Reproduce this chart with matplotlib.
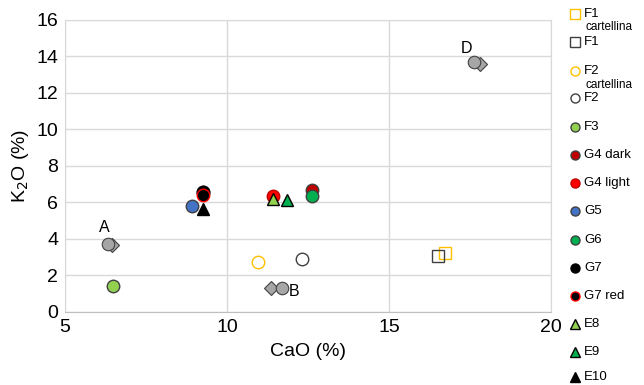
import matplotlib
matplotlib.use("Agg")
import matplotlib.pyplot as plt

plt.rcParams['font.family'] = ['Liberation Sans', 'DejaVu Sans']

# CaO / K2O (%) per group
f1_cart_x, f1_cart_y = [16.72], [3.24]
f1_x, f1_y = [16.51], [3.08]
f2_cart_x, f2_cart_y = [10.96], [2.75]
f2_x, f2_y = [12.31], [2.90]
f3_x, f3_y = [6.48], [1.40]
g4dark_x, g4dark_y = [12.63, 9.27], [6.67, 6.55]
g4light_x, g4light_y = [11.42], [6.36]
g5_x, g5_y = [8.92], [5.81]
g6_x, g6_y = [12.61], [6.34]
g7_x, g7_y = [9.27], [6.55]
g7red_x, g7red_y = [9.27], [6.40]
e8_x, e8_y = [11.43], [6.20]
e9_x, e9_y = [11.84], [6.14]
e10_x, e10_y = [9.25], [5.62]

# reference points A, B, D (circle + diamond)
ref_labels = ['A', 'B', 'D']
ref_circle_x = [6.32, 11.68, 17.62]
ref_circle_y = [3.70, 1.31, 13.68]
ref_diamond_x = [6.46, 11.36, 17.81]
ref_diamond_y = [3.66, 1.31, 13.59]
ref_label_x = [6.2, 12.05, 17.37]
ref_label_y = [4.6, 1.1, 14.4]

series = [
    # label, sublabel, x, y, marker, face, edge
    ('F1', 'cartellina', f1_cart_x, f1_cart_y, 's', 'none', '#ffc000'),
    ('F1', None, f1_x, f1_y, 's', 'none', '#404040'),
    ('F2', 'cartellina', f2_cart_x, f2_cart_y, 'o', 'none', '#ffc000'),
    ('F2', None, f2_x, f2_y, 'o', 'none', '#404040'),
    ('F3', None, f3_x, f3_y, 'o', '#92d050', '#404040'),
    ('G4 dark', None, g4dark_x, g4dark_y, 'o', '#c00000', '#404040'),
    ('G4 light', None, g4light_x, g4light_y, 'o', '#ff0000', '#c00000'),
    ('G5', None, g5_x, g5_y, 'o', '#4472c4', '#404040'),
    ('G6', None, g6_x, g6_y, 'o', '#00b050', '#404040'),
    ('G7', None, g7_x, g7_y, 'o', '#000000', '#000000'),
    ('G7 red', None, g7red_x, g7red_y, 'o', '#000000', '#ff0000'),
    ('E8', None, e8_x, e8_y, '^', '#92d050', '#000000'),
    ('E9', None, e9_x, e9_y, '^', '#00b050', '#000000'),
    ('E10', None, e10_x, e10_y, '^', '#000000', '#000000'),
]

fig = plt.figure(figsize=(6.44, 3.85), dpi=100)
ax = fig.add_axes([0.101, 0.19, 0.755, 0.759])

ax.plot(ref_diamond_x, ref_diamond_y, 'D', ms=7, mfc='#a6a6a6', mec='#404040', mew=0.8, ls='none')
ax.plot(ref_circle_x, ref_circle_y, 'o', ms=9, mfc='#a6a6a6', mec='#404040', mew=0.8, ls='none')
for lab, lx, ly in zip(ref_labels, ref_label_x, ref_label_y):
    ax.text(lx, ly, lab, fontsize=11.5, ha='center', va='center')

for lab, sub, xs, ys, m, fc, ec in series:
    ms = 8 if m == 's' else 9
    ax.plot(xs, ys, m, ms=ms, mfc=fc, mec=ec, mew=1.0, ls='none')

ax.set_xlim(5, 20)
ax.set_ylim(0, 16)
ax.set_xticks([5, 10, 15, 20])
ax.set_yticks(range(0, 17, 2))
ax.grid(True, color='#d9d9d9', lw=1)
ax.set_axisbelow(True)
ax.tick_params(length=0, labelsize=14, pad=5, colors='#000000')
for s in ax.spines.values():
    s.set_color('#d9d9d9')
ax.spines['bottom'].set_color('#bfbfbf')
ax.set_xlabel('CaO (%)', fontsize=14, labelpad=5)
ax.set_ylabel('K$_2$O (%)', fontsize=14, labelpad=4)

# legend column drawn in pixel space on the right
lg = fig.add_axes([0, 0, 1, 1], facecolor='none')
lg.set_xlim(0, 644)
lg.set_ylim(385, 0)
lg.axis('off')
ys_leg = [14, 42, 71, 98, 127, 155, 183, 211, 240, 268, 296, 324, 352, 377]
for (lab, sub, xs, ys, m, fc, ec), yy in zip(series, ys_leg):
    lg.plot([575], [yy], m, ms=6.5, mfc=fc, mec=ec, mew=1.0)
    lg.text(584, yy, lab, fontsize=9.5, va='center', ha='left')
    if sub:
        lg.text(586, yy + 13.5, sub, fontsize=8.5, va='center', ha='left')

fig.savefig('out.png', dpi=100)
